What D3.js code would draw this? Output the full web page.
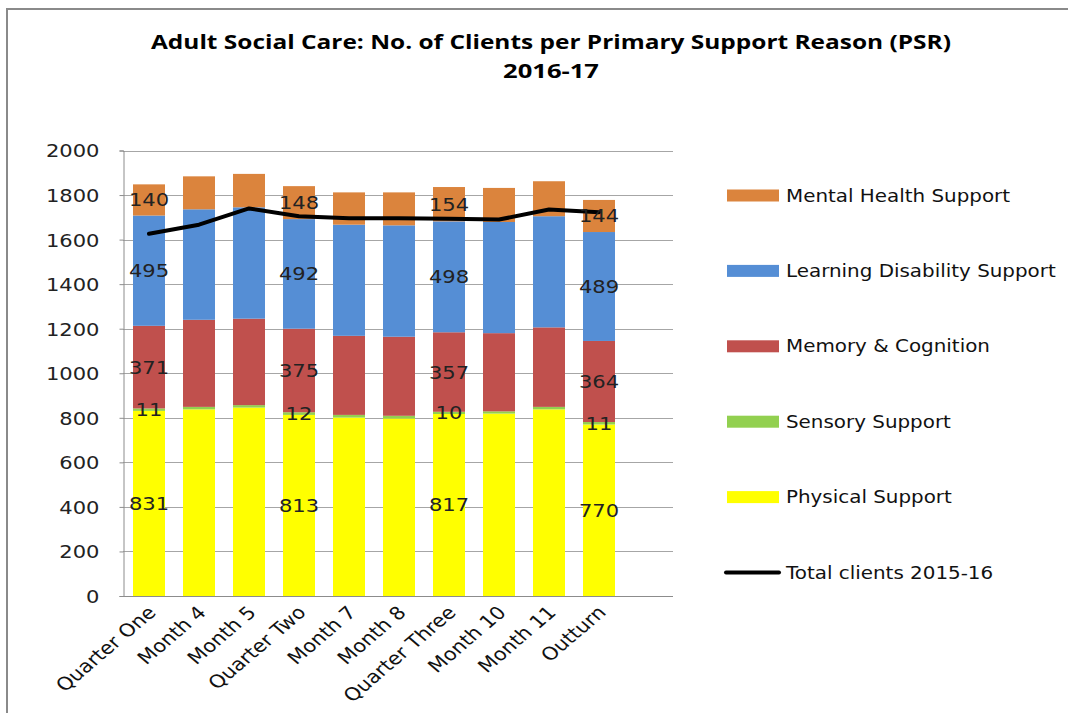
<!DOCTYPE html>
<html>
<head>
<meta charset="utf-8">
<script src="https://cdn.jsdelivr.net/npm/d3@7"></script>
<style>
  html, body { margin: 0; padding: 0; background: #fff; }
  svg { display: block; }
</style>
</head>
<body>
<svg id="chart" width="1068" height="713"></svg>
<script>
// Reporting periods
const categories = ["Quarter One", "Month 4", "Month 5", "Quarter Two", "Month 7",
                    "Month 8", "Quarter Three", "Month 10", "Month 11", "Outturn"];

// Clients per primary support reason, 2016-17 (stacked bottom to top)
const physicalSupport   = [831, 838, 846, 813, 801, 797, 817, 819, 838, 770];
const sensorySupport    = [11, 11, 11, 12, 12, 12, 10, 10, 11, 11];
const memoryCognition   = [371, 391, 388, 375, 355, 355, 357, 351, 357, 364];
const learningDisability= [495, 496, 500, 492, 499, 500, 498, 499, 499, 489];
const mentalHealth      = [140, 148, 150, 148, 145, 148, 154, 153, 157, 144];

// Total clients in the previous year, for comparison
const totalClients2015 = [1626, 1667, 1740, 1705, 1696, 1696, 1694, 1690, 1735, 1723];

// Periods whose segments carry value labels
const labelledPeriods = ["Quarter One", "Quarter Two", "Quarter Three", "Outturn"];

const yTicks = [0, 200, 400, 600, 800, 1000, 1200, 1400, 1600, 1800, 2000];

const series = [
  { name: "Physical Support",            values: physicalSupport,    color: "#FFFF00" },
  { name: "Sensory Support",             values: sensorySupport,     color: "#92D050" },
  { name: "Memory & Cognition",          values: memoryCognition,    color: "#C0504D" },
  { name: "Learning Disability Support", values: learningDisability, color: "#558ED5" },
  { name: "Mental Health Support",       values: mentalHealth,       color: "#DB843D" }
];

const TEXT_STRETCH = 1.17;
const svg = d3.select("#chart");

// Outer frame
svg.append("rect")
  .attr("x", 7).attr("y", 9).attr("width", 1080).attr("height", 720)
  .attr("fill", "none").attr("stroke", "#8a8a8a").attr("stroke-width", 2);

// Title
const title = svg.append("g")
  .attr("font-family", "'Open Sans', 'Liberation Sans', sans-serif")
  .attr("font-weight", "bold").attr("font-size", 20).attr("fill", "#000");
title.append("text").attr("x", 551).attr("y", 49).attr("text-anchor", "middle")
  .attr("textLength", 800).attr("lengthAdjust", "spacingAndGlyphs")
  .text("Adult Social Care: No. of Clients per Primary Support Reason (PSR)");
title.append("text").attr("x", 551).attr("y", 78).attr("text-anchor", "middle")
  .attr("textLength", 96).attr("lengthAdjust", "spacingAndGlyphs")
  .text("2016-17");

// Scales
const plotLeft = 123, plotRight = 673, plotTop = 150.5, plotBottom = 596;
const x = d3.scaleBand().domain(categories).range([124, 624])
  .paddingInner(0.36).paddingOuter(0.18);
const y = d3.scaleLinear().domain([0, 2000]).range([plotBottom, plotTop]);

// Gridlines
svg.append("g").selectAll("line").data(yTicks.filter(t => t > 0)).join("line")
  .attr("x1", plotLeft).attr("x2", plotRight)
  .attr("y1", d => Math.round(y(d)) + 0.5).attr("y2", d => Math.round(y(d)) + 0.5)
  .attr("stroke", "#a6a6a6").attr("stroke-width", 1);

// Stacked bars
const rows = categories.map((c, i) => {
  const r = { category: c };
  series.forEach(s => r[s.name] = s.values[i]);
  return r;
});
const stack = d3.stack().keys(series.map(s => s.name));
const stacked = stack(rows);

const barG = svg.append("g");
stacked.forEach((layer, li) => {
  barG.append("g").attr("fill", series[li].color)
    .selectAll("rect").data(layer).join("rect")
    .attr("x", d => x(d.data.category))
    .attr("width", x.bandwidth())
    .attr("y", d => y(d[1]))
    .attr("height", d => y(d[0]) - y(d[1]));
});

// Y axis
const yAxis = d3.axisLeft(y).tickValues(yTicks).tickFormat(d3.format("d")).tickSize(4);
const yG = svg.append("g").attr("transform", `translate(${plotLeft + 0.5},0)`).call(yAxis);
yG.select(".domain").attr("stroke", "#8c8c8c");
yG.selectAll(".tick line").attr("stroke", "#8c8c8c");
yG.selectAll(".tick text")
  .attr("font-family", "'DejaVu Sans', sans-serif").attr("font-size", 18)
  .attr("fill", "#222").attr("x", null).attr("dy", "0.36em")
  .attr("transform", `translate(-24,0) scale(${TEXT_STRETCH},1)`);

// X axis baseline
svg.append("line")
  .attr("x1", plotLeft).attr("x2", plotRight)
  .attr("y1", plotBottom + 0.5).attr("y2", plotBottom + 0.5)
  .attr("stroke", "#8c8c8c");

// X labels, rotated
svg.append("g").selectAll("text").data(categories).join("text")
  .attr("font-family", "'DejaVu Sans', sans-serif").attr("font-size", 18)
  .attr("fill", "#111").attr("text-anchor", "end").attr("dy", "0.75em")
  .attr("transform", d => `translate(${x(d) + x.bandwidth() / 2 - 3},604) scale(${TEXT_STRETCH},1) rotate(-45)`)
  .text(d => d);

// Previous-year totals line
const line = d3.line()
  .x((d, i) => x(categories[i]) + x.bandwidth() / 2)
  .y(d => y(d));
svg.append("path").datum(totalClients2015)
  .attr("d", line).attr("fill", "none")
  .attr("stroke", "#000").attr("stroke-width", 4)
  .attr("stroke-linejoin", "round").attr("stroke-linecap", "round");

// Value labels inside segments
const labelG = svg.append("g")
  .attr("font-family", "'DejaVu Sans', sans-serif").attr("font-size", 18)
  .attr("fill", "#222").attr("text-anchor", "middle");
stacked.forEach(layer => {
  labelG.selectAll(null)
    .data(layer.filter(d => labelledPeriods.includes(d.data.category)))
    .join("text")
    .attr("dy", "0.36em")
    .attr("transform", d => `translate(${x(d.data.category) + x.bandwidth() / 2},${y((d[0] + d[1]) / 2)}) scale(${TEXT_STRETCH},1)`)
    .text(d => d[1] - d[0]);
});

// Legend
const legendItems = series.slice().reverse()
  .map(s => ({ name: s.name, color: s.color, type: "bar" }))
  .concat([{ name: "Total clients 2015-16", color: "#000", type: "line" }]);
const legend = svg.append("g");
legendItems.forEach((item, i) => {
  const cy = 195.5 + i * 75.4;
  if (item.type === "bar") {
    legend.append("rect").attr("x", 727).attr("y", cy - 6).attr("width", 52).attr("height", 12)
      .attr("fill", item.color);
  } else {
    legend.append("line").attr("x1", 726).attr("x2", 779).attr("y1", cy).attr("y2", cy)
      .attr("stroke", item.color).attr("stroke-width", 4).attr("stroke-linecap", "round");
  }
  legend.append("text")
    .attr("font-family", "'DejaVu Sans', sans-serif").attr("font-size", 17)
    .attr("fill", "#111").attr("dy", "0.36em")
    .attr("transform", `translate(786,${cy}) scale(${TEXT_STRETCH},1)`)
    .text(item.name);
});
</script>
</body>
</html>
